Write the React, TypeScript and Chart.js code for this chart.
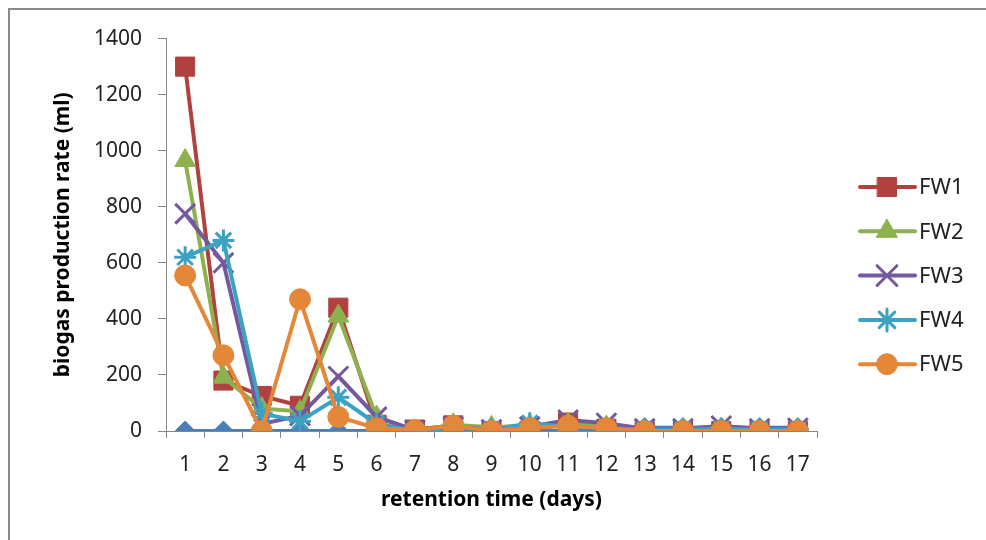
import React, { useEffect, useRef } from 'react';
import { Chart, registerables } from 'chart.js';
import { drawPoint } from 'chart.js/helpers';

const days = ['1', '2', '3', '4', '5', '6', '7', '8', '9', '10', '11', '12', '13', '14', '15', '16', '17'];
const yTicks = [0, 200, 400, 600, 800, 1000, 1200, 1400];

// unlabelled blue series (not in the legend)
const base = [0, 0, 0, 0, 0, 0, 0, 0, 0, 0, 0, 0, 12, 12, 12, 12, 12];
const fw1 = [1300, 180, 125, 90, 440, 22, 5, 20, 0, 0, 30, 8, 0, 0, 0, 0, 0];
const fw2 = [965, 192, 80, 70, 410, 50, 0, 22, 13, 20, 25, 14, 3, 3, 5, 3, 3];
const fw3 = [775, 600, 25, 55, 195, 50, 3, 15, 5, 15, 39, 28, 8, 8, 18, 8, 10];
const fw4 = [620, 680, 62, 35, 120, 25, 0, 12, 5, 28, 15, 10, 5, 5, 8, 5, 5];
const fw5 = [555, 270, 0, 470, 50, 10, 3, 19, 0, 10, 19, 10, 0, 0, 0, 0, 0];

const FONT = '"Noto Sans", "Open Sans", sans-serif';
const AXIS = '#868686';

const series = [
  { label: 'FW5', data: fw5, color: '#E48739', style: 'circle', r: 10.5, bw: 1 },
  { label: 'FW4', data: fw4, color: '#3DA1C2', style: 'star', r: 11, bw: 3 },
  { label: 'FW3', data: fw3, color: '#7458A0', style: 'crossRot', r: 14, bw: 3 },
  { label: 'FW2', data: fw2, color: '#8DB14F', style: 'triangle', r: 12, bw: 1 },
  { label: 'FW1', data: fw1, color: '#B0413E', style: 'rect', r: 13.5, bw: 1 },
  { label: '', data: base, color: '#4A7EBB', style: 'rectRot', r: 10, bw: 1 },
];

const legendOrder = ['FW1', 'FW2', 'FW3', 'FW4', 'FW5'];

const lineLegend = {
  id: 'lineLegend',
  afterDraw(chart: any) {
    const ctx = chart.ctx;
    ctx.save();
    legendOrder.forEach((name, i) => {
      const s = series.find((d) => d.label === name)!;
      const y = 177 + i * 44.3;
      ctx.strokeStyle = s.color;
      ctx.fillStyle = s.color;
      ctx.lineWidth = 4;
      ctx.lineCap = 'round';
      ctx.beginPath();
      ctx.moveTo(850, y);
      ctx.lineTo(905, y);
      ctx.stroke();
      ctx.lineWidth = s.bw;
      drawPoint(ctx, { pointStyle: s.style, radius: s.r, rotation: 0, borderWidth: s.bw }, 877, y);
      ctx.fillStyle = '#222';
      ctx.font = '22px ' + FONT;
      ctx.textAlign = 'left';
      ctx.textBaseline = 'middle';
      ctx.fillText(name, 909, y + 1);
    });
    ctx.restore();
  },
};

export default function App() {
  const canvasRef = useRef<HTMLCanvasElement>(null);
  const chartRef = useRef<Chart | null>(null);

  useEffect(() => {
    if (!canvasRef.current) return;
    Chart.register(...registerables);
    chartRef.current = new Chart(canvasRef.current, {
      type: 'line',
      data: {
        labels: days,
        datasets: series.map((s) => ({
          label: s.label,
          data: s.data,
          borderColor: s.color,
          backgroundColor: s.color,
          borderWidth: 4,
          pointStyle: s.style as any,
          pointRadius: s.r,
          pointBorderWidth: s.bw,
          pointBorderColor: s.color,
          pointBackgroundColor: s.color,
          tension: 0,
        })),
      },
      options: {
        responsive: false,
        animation: false,
        layout: { padding: { left: 36, top: 25, right: 161, bottom: 15 } },
        plugins: {
          legend: { display: false },
          tooltip: { enabled: false },
        },
        scales: {
          x: {
            type: 'category',
            offset: true,
            grid: { offset: true, drawOnChartArea: false, color: AXIS, tickLength: 7 },
            border: { color: AXIS, width: 1 },
            ticks: { color: '#222', font: { family: FONT, size: 21 }, padding: 14, maxRotation: 0, autoSkip: false },
            title: {
              display: true,
              text: 'retention time (days)',
              color: '#000',
              font: { family: FONT, size: 21, weight: 'bold' },
            },
            afterFit: (scale: any) => { scale.height = 86; },
          },
          y: {
            min: 0,
            max: 1400,
            afterBuildTicks: (scale: any) => { scale.ticks = yTicks.map((v) => ({ value: v })); },
            grid: { drawOnChartArea: false, color: AXIS, tickLength: 8 },
            border: { color: AXIS, width: 1 },
            ticks: {
              color: '#222',
              font: { family: FONT, size: 21 },
              padding: 16,
              callback: (v: any) => String(v),
            },
            title: {
              display: true,
              text: 'biogas production rate (ml)',
              color: '#000',
              font: { family: FONT, size: 21, weight: 'bold' },
            },
            afterFit: (scale: any) => { scale.width = 120; },
          },
        },
      },
      plugins: [lineLegend],
    });
    return () => {
      chartRef.current?.destroy();
      chartRef.current = null;
    };
  }, []);

  return (
    <div
      style={{
        position: 'fixed',
        left: 8,
        top: 8,
        width: 1000,
        height: 560,
        borderTop: '2px solid #8a8a8a',
        borderLeft: '2px solid #8a8a8a',
        background: '#fff',
      }}
    >
      <canvas ref={canvasRef} width={968} height={522} style={{ display: 'block' }} />
    </div>
  );
}
